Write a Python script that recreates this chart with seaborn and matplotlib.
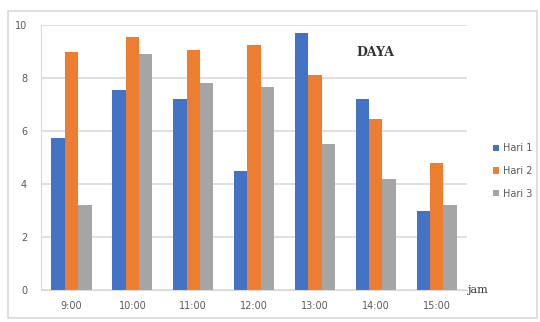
import numpy as np
import pandas as pd
import matplotlib
matplotlib.use("Agg")
import matplotlib.pyplot as plt
import seaborn as sns
from matplotlib.patches import Rectangle

# data
jam = ['9:00', '10:00', '11:00', '12:00', '13:00', '14:00', '15:00']
hari1 = [5.75, 7.55, 7.2, 4.5, 9.7, 7.2, 3.0]
hari2 = [9.0, 9.55, 9.05, 9.25, 8.1, 6.45, 4.8]
hari3 = [3.2, 8.9, 7.8, 7.65, 5.5, 4.2, 3.2]
series = ['Hari 1', 'Hari 2', 'Hari 3']
colors = ['#4472C4', '#ED7D31', '#A5A5A5']

df = pd.DataFrame({
    'jam': jam * 3,
    'nilai': hari1 + hari2 + hari3,
    'hari': [s for s in series for _ in jam],
})

sns.set_style("white")
fig = plt.figure(figsize=(5.4, 3.22), dpi=100)
ax = fig.add_axes([0.076, 0.099, 0.789, 0.823])

sns.barplot(data=df, x='jam', y='nilai', hue='hari', palette=colors,
            width=0.66, gap=0, saturation=1, linewidth=0, ax=ax, legend=True)

ax.set_ylim(0, 10)
ax.set_yticks([0, 2, 4, 6, 8, 10])
ax.set_xlim(-0.5, 6.5)
ax.yaxis.grid(True, color='#D9D9D9', linewidth=1.2)
ax.set_axisbelow(True)
ax.set_xlabel('')
ax.set_ylabel('')
for s in ['top', 'right']:
    ax.spines[s].set_visible(False)
ax.spines['left'].set_color('#D9D9D9')
ax.spines['bottom'].set_color('#D9D9D9')
ax.tick_params(axis='both', labelsize=7, colors='#595959', length=0, pad=8)
ax.tick_params(axis='y', pad=10)
# category boundary ticks like the original
ax.set_xticks(np.arange(-0.5, 7.0, 1.0), minor=True)
ax.tick_params(axis='x', which='minor', length=4, color='#D9D9D9')

ax.text(0.785, 0.885, 'DAYA', transform=ax.transAxes, fontsize=9,
        fontweight='bold', family='DejaVu Serif', color='#333333', ha='center')
ax.text(1.0, 0.0, 'jam', transform=ax.transAxes, fontsize=8,
        family='DejaVu Serif', color='#333333', ha='left', va='center')

handles, labels = ax.get_legend_handles_labels()
ax.legend(handles, labels, loc='center left', bbox_to_anchor=(1.04, 0.45),
          frameon=False, fontsize=7, handlelength=0.6, handleheight=0.6,
          labelspacing=1.3, handletextpad=0.4, labelcolor='#595959')

fig.patches.append(Rectangle((0.015, 0.012), 0.98, 0.955, transform=fig.transFigure,
                             fill=False, edgecolor='#D9D9D9', linewidth=1.2))

fig.savefig('out.png', dpi=100)
